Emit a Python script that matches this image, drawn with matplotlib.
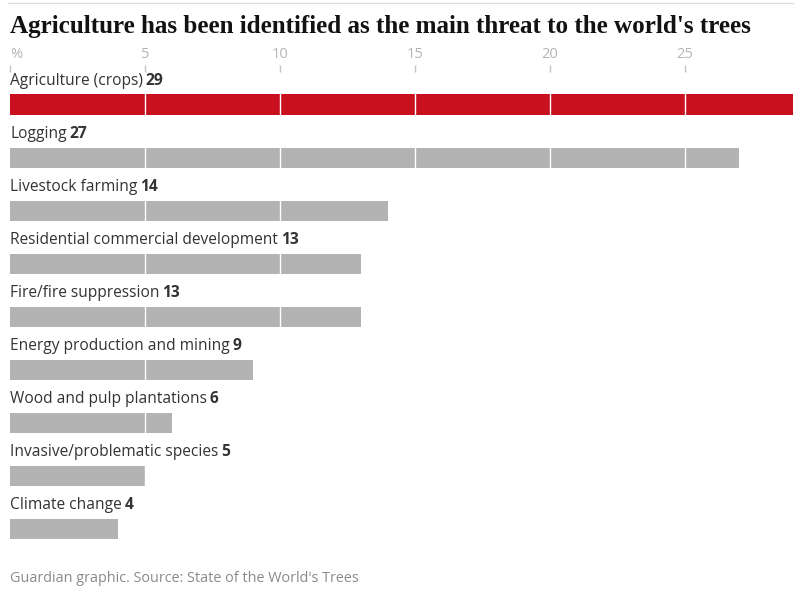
import matplotlib.pyplot as plt

categories = ['Agriculture (crops)', 'Logging', 'Livestock farming',
              'Residential commercial development', 'Fire/fire suppression',
              'Energy production and mining', 'Wood and pulp plantations',
              'Invasive/problematic species', 'Climate change']
values = [29, 27, 14, 13, 13, 9, 6, 5, 4]
tick_values = [0, 5, 10, 15, 20, 25]
tick_labels = ['%', '5', '10', '15', '20', '25']

red = '#c8101e'
grey = '#b3b3b3'
sans = ['Open Sans', 'DejaVu Sans']

fig = plt.figure(figsize=(8, 5.93), dpi=100)
W, H = 800, 593
ax_top, ax_bot = 65, 560
ax = fig.add_axes([10 / W, 1 - ax_bot / H, 783 / W, (ax_bot - ax_top) / H])

colors = [red] + [grey] * (len(values) - 1)
rows = list(range(len(values)))
ax.barh(rows, values, height=0.377, color=colors, zorder=1)

# white gridlines through the bars (kept clear of the tick marks)
for t in tick_values[1:]:
    ax.axvline(t, ymax=1 - 10 / (ax_bot - ax_top), color='white', lw=1, zorder=2)

ax.set_xlim(0, 29)
ax.set_ylim((ax_bot - 104.5) / 53.1, (ax_top - 104.5) / 53.1)
for s in ax.spines.values():
    s.set_visible(False)
ax.set_yticks([])
ax.xaxis.tick_top()
ax.set_xticks(tick_values)
ax.set_xticklabels(tick_labels)
ax.tick_params(axis='x', direction='in', length=5, width=1, color='#c4c4c4',
               pad=2.5, labelsize=10.5, labelcolor='#b5b5b5')
for lab in ax.get_xticklabels():
    lab.set_family(sans)
ax.get_xticklabels()[0].set_ha('left')

for i, (name, v) in enumerate(zip(categories, values)):
    t = ax.text(0, i - 0.3, name, ha='left', va='bottom', fontsize=11.2,
                color='#333333', family=sans)
    ax.annotate(str(v), xy=(1, 0), xycoords=t, xytext=(2, 0),
                textcoords='offset points', ha='left', va='bottom',
                fontsize=11.2, fontweight='bold', color='#333333', family=sans)

fig.text(10 / W, 1 - 27 / H, "Agriculture has been identified as the main threat to the world's trees",
         ha='left', va='center', fontsize=18.1, fontweight='bold',
         family=['Liberation Serif', 'DejaVu Serif'], color='#121212')
fig.text(10 / W, 1 - 578 / H, "Guardian graphic. Source: State of the World's Trees",
         ha='left', va='center', fontsize=10.4, color='#8a8a8a', family=sans)
fig.add_artist(plt.Line2D([8 / W, 793 / W], [1 - 3 / H, 1 - 3 / H],
                          color='#dddddd', lw=1, transform=fig.transFigure))

fig.savefig('out.png', dpi=100)
